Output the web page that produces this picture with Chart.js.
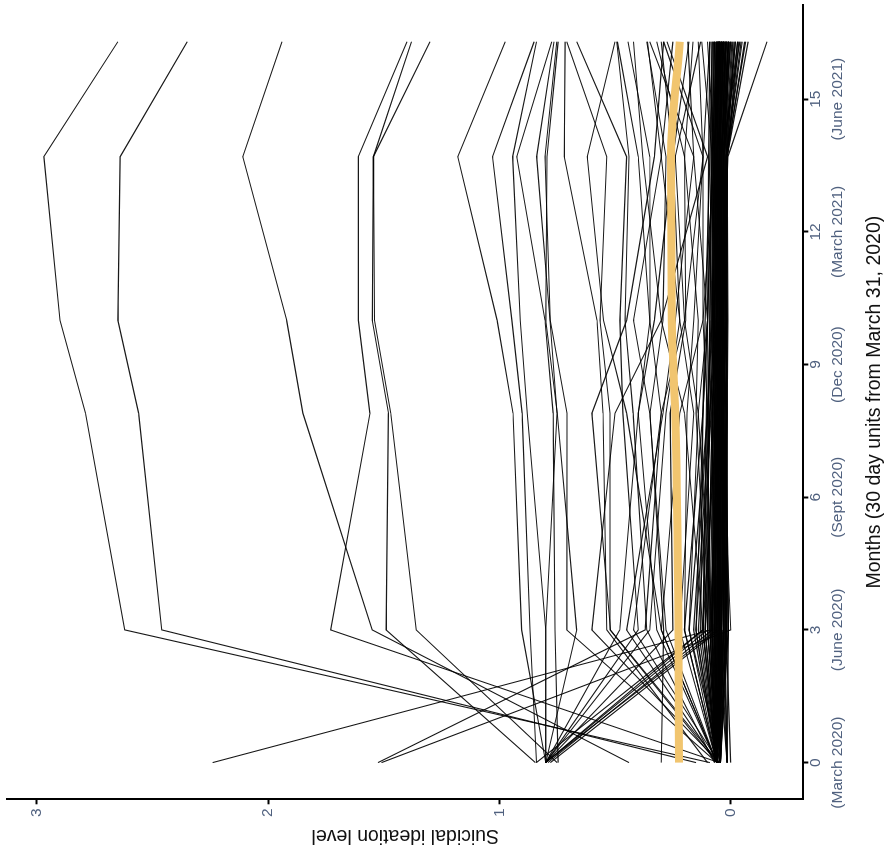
<!DOCTYPE html>
<html>
<head>
<meta charset="utf-8">
<script src="https://cdn.jsdelivr.net/npm/chart.js@4.4.1/dist/chart.umd.min.js"></script>
<style>
  html, body { margin: 0; padding: 0; background: #fff; overflow: hidden; width: 892px; height: 851px; }
  /* the plot is laid out portrait and turned a quarter turn counter-clockwise */
  #frame { position: absolute; left: 0; top: 0; width: 851px; height: 892px;
           transform-origin: 0 0; transform: translate(0, 851px) rotate(-90deg); }
  canvas { display: block; }
</style>
</head>
<body>
<div id="frame"><canvas id="c" width="851" height="892"></canvas></div>
<script>
// survey waves, in 30-day months since March 31, 2020
const waveMonths = [0, 3, 7.9, 10, 13.7, 16.3];

// sample-average trajectory
const meanTrend = [0.224, 0.226, 0.24, 0.255, 0.258, 0.22];

// participants with the highest ideation scores
const highSeries = [
  [0.09, 2.62, 2.79, 2.90, 2.97, 2.65],
  [0.15, 2.46, 2.56, 2.65, 2.64, 2.35],
  [0.44, 1.55, 1.85, 1.92, 2.11, 1.94],
  [0.05, 1.73, 1.56, 1.61, 1.61, 1.40],
  [0.845, 1.49, 1.48, 1.55, 1.545, 1.38],
  [0.75, 1.36, 1.47, 1.54, 1.545, 1.30],
  [2.24, 0.085, 0.05, 0.06, 0.04, 0.05],
  [1.525, 0.37, 0.30, 0.35, 0.40, 0.49],
  [1.51, 0.00, 0.04, 0.05, 0.05, 0.03]
];

// participants in the middle range
const midSeries = [
  [0.80, 0.904, 0.941, 1.01, 1.18, 0.975],
  [0.84, 0.868, 0.902, 0.946, 1.03, 0.85],
  [0.80, 0.80, 0.88, 0.91, 0.943, 0.84],
  [0.746, 0.76, 0.768, 0.803, 0.925, 0.774],
  [0.80, 0.80, 0.751, 0.781, 0.839, 0.764],
  [0.06, 0.709, 0.708, 0.78, 0.803, 0.752],
  [0.80, 0.666, 0.75, 0.80, 0.794, 0.746],
  [0.10, 0.536, 0.552, 0.578, 0.72, 0.716],
  [0.06, 0.522, 0.522, 0.565, 0.536, 0.709],
  [0.80, 0.40, 0.466, 0.479, 0.45, 0.666],
  [0.07, 0.363, 0.422, 0.457, 0.44, 0.493],
  [0.06, 0.32, 0.40, 0.349, 0.35, 0.444],
  [0.30, 0.29, 0.349, 0.293, 0.28, 0.363],
  [0.06, 0.45, 0.293, 0.24, 0.16, 0.35],
  [0.80, 0.25, 0.262, 0.194, 0.20, 0.32],
  [0.06, 0.20, 0.189, 0.16, 0.12, 0.29],
  [0.05, 0.60, 0.50, 0.30, 0.10, 0.275],
  [0.06, 0.15, 0.12, 0.10, 0.16, 0.185],
  [0.05, 0.10, 0.15, 0.14, 0.20, 0.163],
  [0.80, 0.12, 0.10, 0.12, 0.12, 0.14],
  [0.06, 0.18, 0.14, 0.10, 0.08, 0.125],
  [0.06, 0.30, 0.45, 0.55, 0.62, 0.50],
  [0.80, 0.48, 0.40, 0.33, 0.25, 0.18],
  [0.06, 0.28, 0.35, 0.42, 0.30, 0.36],
  [0.05, 0.42, 0.30, 0.20, 0.12, 0.09],
  [0.80, 0.35, 0.28, 0.22, 0.25, 0.30],
  [0.06, 0.12, 0.20, 0.30, 0.38, 0.42],
  [0.06, 0.22, 0.16, 0.22, 0.30, 0.25],
  [0.07, 0.08, 0.14, 0.20, 0.24, 0.13],
  [0.06, 0.30, 0.22, 0.12, 0.07, 0.10],
  [0.05, 0.52, 0.60, 0.45, 0.33, 0.29]
];

// participants whose score dropped from about 0.8 at baseline
const droppedSeries = [
  [0.80, 0.06, 0.05, 0.04, 0.05, 0.03],
  [0.79, 0.08, 0.06, 0.05, 0.04, 0.02],
  [0.80, 0.10, 0.08, 0.07, 0.06, 0.05],
  [0.78, 0.05, 0.04, 0.06, 0.05, 0.04],
  [0.84, 0.12, 0.09, 0.06, 0.07, 0.05]
];

// participants reporting little or no ideation
const lowSeries = [
  [0.06, 0.05, 0.04, 0.05, 0.04, 0.03],
  [0.06, 0.03, 0.05, 0.04, 0.06, 0.05],
  [0.045, 0.07, 0.06, 0.05, 0.05, 0.02],
  [0.06, 0.02, 0.03, 0.02, 0.03, 0.01],
  [0.015, 0.01, 0.02, 0.03, 0.02, -0.01],
  [0.06, 0.08, 0.07, 0.06, 0.07, 0.06],
  [0.045, 0.04, 0.02, 0.015, 0.02, -0.02],
  [0.06, 0.06, 0.05, 0.07, 0.05, 0.04],
  [0.06, 0.10, 0.08, 0.06, 0.05, 0.07],
  [0.00, 0.02, 0.015, 0.02, 0.015, -0.03],
  [0.06, 0.12, 0.06, 0.05, 0.06, 0.05],
  [0.045, 0.05, 0.06, 0.07, 0.06, 0.02],
  [0.06, 0.03, 0.04, 0.03, 0.04, -0.04],
  [0.06, 0.15, 0.09, 0.07, 0.05, 0.04],
  [0.045, 0.01, 0.02, 0.04, 0.03, 0.00],
  [0.06, 0.07, 0.05, 0.03, 0.02, -0.05],
  [0.06, 0.05, 0.07, 0.08, 0.07, 0.06],
  [0.015, 0.03, 0.03, 0.02, 0.015, -0.06],
  [0.06, 0.09, 0.05, 0.04, 0.05, 0.03],
  [0.06, 0.04, 0.03, 0.05, 0.04, 0.01],
  [0.045, 0.18, 0.10, 0.08, 0.06, 0.05],
  [0.06, 0.06, 0.08, 0.06, 0.07, 0.04],
  [0.06, 0.02, 0.04, 0.03, 0.015, -0.075],
  [0.06, 0.11, 0.07, 0.05, 0.04, 0.02],
  [0.045, 0.05, 0.05, 0.06, 0.03, 0.01],
  [0.06, 0.07, 0.06, 0.04, 0.012, -0.157],
  [0.06, 0.04, 0.06, 0.05, 0.05, 0.03],
  [0.06, 0.13, 0.12, 0.10, 0.08, 0.06],
  [0.045, 0.02, 0.03, 0.06, 0.07, 0.05],
  [0.06, 0.08, 0.04, 0.03, 0.03, -0.02],
  [0.015, 0.06, 0.05, 0.04, 0.06, 0.04],
  [0.06, 0.05, 0.07, 0.06, 0.04, 0.00],
  [0.06, 0.09, 0.10, 0.09, 0.08, 0.07],
  [0.045, 0.03, 0.02, 0.03, 0.05, 0.03],
  [0.06, 0.06, 0.04, 0.02, 0.03, -0.03],
  [0.06, 0.20, 0.12, 0.11, 0.09, 0.08],
  [0.06, 0.04, 0.05, 0.07, 0.06, 0.05],
  [0.045, 0.07, 0.03, 0.04, 0.02, -0.045],
  [0.06, 0.01, 0.03, 0.02, 0.04, 0.02],
  [0.06, 0.05, 0.06, 0.05, 0.07, 0.06],
  [0.06, 0.03, 0.02, 0.015, 0.02, 0.01],
  [0.06, 0.05, 0.035, 0.025, 0.03, 0.02],
  [0.045, 0.02, 0.015, 0.02, 0.015, -0.015],
  [0.06, 0.07, 0.065, 0.055, 0.06, 0.05],
  [0.06, 0.04, 0.045, 0.035, 0.045, 0.035],
  [0.06, 0.09, 0.075, 0.07, 0.075, 0.065],
  [0.045, 0.06, 0.055, 0.045, 0.035, 0.025],
  [0.06, 0.035, 0.025, 0.03, 0.025, -0.005],
  [0.06, 0.14, 0.085, 0.075, 0.065, 0.055],
  [0.015, 0.025, 0.015, 0.012, 0.015, -0.035],
  [0.06, 0.065, 0.055, 0.065, 0.055, 0.045],
  [0.06, 0.045, 0.065, 0.075, 0.065, 0.055],
  [0.045, 0.08, 0.06, 0.035, 0.025, 0.015],
  [0.06, 0.03, 0.04, 0.045, 0.035, 0.025],
  [0.06, 0.055, 0.045, 0.04, 0.05, 0.04],
  [0.06, 0.11, 0.09, 0.08, 0.07, 0.06],
  [0.045, 0.015, 0.025, 0.035, 0.045, 0.035],
  [0.06, 0.075, 0.08, 0.065, 0.055, 0.035],
  [0.06, 0.025, 0.035, 0.025, 0.02, -0.065],
  [0.06, 0.085, 0.065, 0.055, 0.045, 0.045],
  [0.045, 0.04, 0.035, 0.045, 0.04, 0.01],
  [0.06, 0.16, 0.10, 0.085, 0.075, 0.07],
  [0.06, 0.05, 0.055, 0.06, 0.065, 0.055],
  [0.015, 0.045, 0.04, 0.035, 0.03, 0.005],
  [0.06, 0.065, 0.07, 0.075, 0.08, 0.075],
  [0.06, 0.10, 0.095, 0.09, 0.085, 0.08],
  [0.06, 0.12, 0.105, 0.10, 0.095, 0.09]
];

// axis ticks
const monthTicks = [0, 3, 6, 9, 12, 15];
const monthDates = ['(March 2020)', '(June 2020)', '(Sept 2020)', '(Dec 2020)', '(March 2021)', '(June 2021)'];
const levelTicks = [0, 1, 2, 3];

const FONT = '"Liberation Sans", Arial, Helvetica, sans-serif';
const TICK_COLOR = '#50617f';

const toPoints = vals => vals.map((v, i) => ({ x: waveMonths[i], y: v }));

// the average is listed first so it is painted on top of every participant line
const datasets = [{
  data: toPoints(meanTrend),
  borderColor: '#F1C56F',
  borderWidth: 8,
  cubicInterpolationMode: 'monotone'
}];
[...highSeries, ...midSeries, ...droppedSeries].forEach(vals => {
  datasets.push({ data: toPoints(vals), borderColor: 'rgba(0,0,0,0.9)', borderWidth: 1.1 });
});
lowSeries.forEach(vals => {
  datasets.push({ data: toPoints(vals), borderColor: 'rgba(0,0,0,0.9)', borderWidth: 1.25 });
});

// keep the plot panel exactly where the layout padding puts it
const noEdgePadding = s => { s.paddingTop = 0; s.paddingBottom = 0; s.paddingLeft = 0; s.paddingRight = 0; };

new Chart(document.getElementById('c'), {
  type: 'line',
  data: { datasets },
  options: {
    responsive: false,
    animation: false,
    layout: { padding: { top: 7.3, right: 5, left: 0, bottom: 0 } },
    elements: { point: { radius: 0 }, line: { tension: 0 } },
    plugins: { legend: { display: false }, tooltip: { enabled: false } },
    scales: {
      x: {
        type: 'linear',
        min: -0.83,
        max: 17.13,
        afterFit: s => { s.height = 88.7; noEdgePadding(s); },
        afterBuildTicks: s => { s.ticks = monthTicks.map(v => ({ value: v })); },
        ticks: {
          autoSkip: false,
          maxRotation: 0,
          padding: -3.3,
          color: TICK_COLOR,
          font: { family: FONT, size: 15.5, lineHeight: 1.42 },
          callback: v => [String(v), monthDates[monthTicks.indexOf(v)]]
        },
        grid: { display: true, drawOnChartArea: false, drawTicks: true, tickLength: 5, tickWidth: 2, tickColor: '#000' },
        border: { display: true, color: '#000', width: 2 },
        title: {
          display: true,
          text: 'Months (30 day units from March 31, 2020)',
          color: '#111',
          font: { family: FONT, size: 19.5, lineHeight: 1.2 },
          padding: { top: 0, bottom: 5.3 }
        }
      },
      y: {
        type: 'linear',
        min: -0.314,
        max: 3.128,
        afterFit: s => { s.width = 51.7; noEdgePadding(s); },
        afterBuildTicks: s => { s.ticks = levelTicks.map(v => ({ value: v })); },
        ticks: {
          padding: 4,
          color: TICK_COLOR,
          font: { family: FONT, size: 15.5 },
          callback: v => String(v)
        },
        grid: { display: true, drawOnChartArea: false, drawTicks: true, tickLength: 5, tickWidth: 2, tickColor: '#000' },
        border: { display: true, color: '#000', width: 2 },
        title: {
          display: true,
          text: 'Suicidal ideation level',
          color: '#111',
          font: { family: FONT, size: 19.5, lineHeight: 1.2 },
          padding: { top: 4.3, bottom: 0 }
        }
      }
    }
  }
});
</script>
</body>
</html>
